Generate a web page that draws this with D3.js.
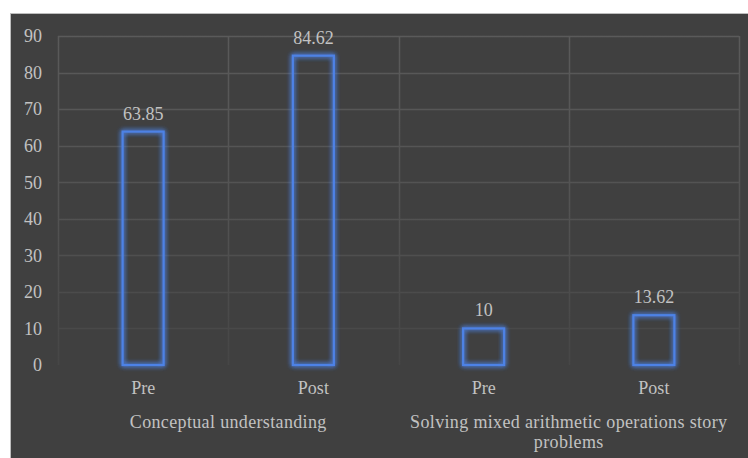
<!DOCTYPE html>
<html><head><meta charset="utf-8">
<script src="https://cdn.jsdelivr.net/npm/d3@7"></script>
<style>html,body{margin:0;padding:0;background:#fff;}svg{display:block;}</style>
</head><body>
<svg id="c" width="748" height="458"></svg>
<script>
const groups = ["Conceptual understanding", "Solving mixed arithmetic operations story problems"];
const phases = ["Pre", "Post"];
const values = [63.85, 84.62, 10, 13.62];
const labels = ["63.85", "84.62", "10", "13.62"];
const yTicks = [0, 10, 20, 30, 40, 50, 60, 70, 80, 90];

const svg = d3.select("#c");
const W = 748, H = 458;
const m = {left: 58, right: 9, top: 36, bottom: 93};
const font = "'Liberation Serif', 'Times New Roman', serif";
const txt = "#c2c2c2";
const fs = 18;

// background
svg.append("rect").attr("x", 10).attr("y", 13).attr("width", W - 10).attr("height", H - 13).attr("fill", "#404040");
svg.append("line").attr("x1", 10.5).attr("x2", 10.5).attr("y1", 13).attr("y2", H).attr("stroke", "#bdbdbd").attr("stroke-width", 1);
svg.append("line").attr("x1", 10).attr("x2", W).attr("y1", 13.5).attr("y2", 13.5).attr("stroke", "#bdbdbd").attr("stroke-width", 1);

const defs = svg.append("defs");
const f = defs.append("filter").attr("id", "glow").attr("x", "-50%").attr("y", "-50%").attr("width", "200%").attr("height", "200%");
f.append("feGaussianBlur").attr("in", "SourceGraphic").attr("stdDeviation", 2.6).attr("result", "b");
const fm = f.append("feMerge");
fm.append("feMergeNode").attr("in", "b");
fm.append("feMergeNode").attr("in", "b");
fm.append("feMergeNode").attr("in", "SourceGraphic");

const gridGrad = defs.append("linearGradient").attr("id", "gg").attr("gradientUnits", "userSpaceOnUse")
  .attr("x1", 0).attr("x2", 0).attr("y1", m.top).attr("y2", H - m.bottom);
gridGrad.append("stop").attr("offset", 0).attr("stop-color", "#5a5a5a");
gridGrad.append("stop").attr("offset", 0.55).attr("stop-color", "#525252");
gridGrad.append("stop").attr("offset", 1).attr("stop-color", "#464646");

const cats = [];
groups.forEach((g, gi) => phases.forEach((p, pi) => cats.push(gi + "-" + p)));

const x = d3.scaleBand().domain(cats).range([m.left, W - m.right]).paddingInner(0).paddingOuter(0);
const y = d3.scaleLinear().domain([0, 90]).range([H - m.bottom, m.top]);

// horizontal grid
const g = svg.append("g");
g.selectAll("line.h").data(yTicks.filter(t => t > 0)).join("line")
  .attr("x1", m.left).attr("x2", W - m.right)
  .attr("y1", d => Math.round(y(d)) + 0.5).attr("y2", d => Math.round(y(d)) + 0.5)
  .attr("stroke", "url(#gg)").attr("stroke-width", 1.5);
// vertical grid at band edges
const edges = cats.map(c => x(c)).concat([W - m.right]);
g.selectAll("line.v").data(edges).join("line")
  .attr("x1", d => Math.round(d) + 0.5).attr("x2", d => Math.round(d) + 0.5)
  .attr("y1", m.top).attr("y2", H - m.bottom)
  .attr("stroke", "url(#gg)").attr("stroke-width", 1.5);

// y tick labels
svg.selectAll("text.yt").data(yTicks).join("text")
  .attr("x", 42).attr("y", d => y(d)).attr("dy", "0.35em")
  .attr("text-anchor", "end").attr("font-family", font).attr("font-size", fs).attr("fill", txt)
  .text(d => d);

// bars
const bw = 41;
svg.selectAll("rect.bar").data(values).join("rect")
  .attr("x", (d, i) => x(cats[i]) + x.bandwidth() / 2 - bw / 2)
  .attr("y", d => y(d))
  .attr("width", bw).attr("height", d => y(0) - y(d))
  .attr("fill", "none").attr("stroke", "#4d82e6").attr("stroke-width", 2.2)
  .attr("filter", "url(#glow)");

// value labels
svg.selectAll("text.vl").data(values).join("text")
  .attr("x", (d, i) => x(cats[i]) + x.bandwidth() / 2)
  .attr("y", d => y(d) - 12)
  .attr("text-anchor", "middle").attr("font-family", font).attr("font-size", fs).attr("fill", txt)
  .text((d, i) => labels[i]);

// phase labels
svg.selectAll("text.ph").data(cats).join("text")
  .attr("x", c => x(c) + x.bandwidth() / 2)
  .attr("y", y(0) + 29)
  .attr("text-anchor", "middle").attr("font-family", font).attr("font-size", fs).attr("fill", txt)
  .text(c => c.split("-")[1]);

// group labels
const groupLines = [["Conceptual understanding"], ["Solving mixed arithmetic operations story", "problems"]];
groups.forEach((gname, gi) => {
  const cx = x(gi + "-Post");
  const t = svg.append("text").attr("text-anchor", "middle").attr("font-family", font).attr("font-size", fs)
    .attr("letter-spacing", 0.35).attr("fill", txt);
  groupLines[gi].forEach((ln, li) => {
    t.append("tspan").attr("x", cx).attr("y", y(0) + 63 + li * 20).text(ln);
  });
});
</script>
</body></html>
